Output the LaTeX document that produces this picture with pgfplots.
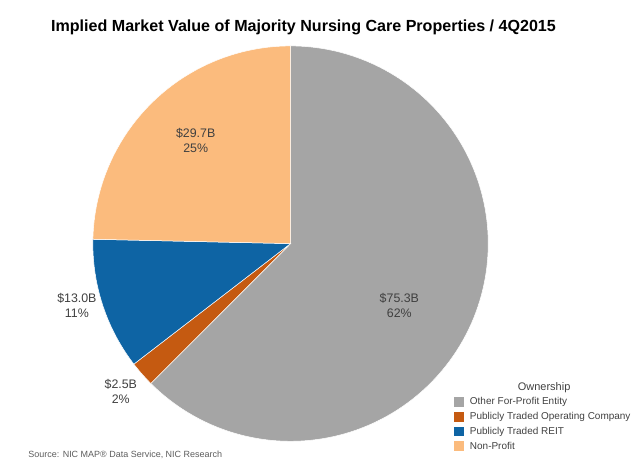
\documentclass[border=0pt]{standalone}
\usepackage{pgfplots}
\pgfplotsset{compat=1.18}
\usepackage{pgfplotstable}
\usepackage{fontspec}
\setmainfont{Liberation Sans}
\definecolor{cGray}{HTML}{A5A5A5}
\definecolor{cOrange}{HTML}{C55A11}
\definecolor{cBlue}{HTML}{0E64A4}
\definecolor{cPeach}{HTML}{FBBB7D}
\definecolor{txt}{HTML}{404040}

\pgfplotstableread{
owner value
Other 75.3
PTOC 2.5
REIT 13.0
NonProfit 29.7
}\pietable

\begin{document}
\begin{tikzpicture}
\pgfplotstablegetelem{0}{value}\of\pietable \let\vA\pgfplotsretval
\pgfplotstablegetelem{1}{value}\of\pietable \let\vB\pgfplotsretval
\pgfplotstablegetelem{2}{value}\of\pietable \let\vC\pgfplotsretval
\pgfplotstablegetelem{3}{value}\of\pietable \let\vD\pgfplotsretval
\pgfmathsetmacro{\tot}{\vA+\vB+\vC+\vD}
\pgfmathsetmacro{\aA}{90-360*(\vA/\tot)}
\pgfmathsetmacro{\aB}{\aA-360*(\vB/\tot)}
\pgfmathsetmacro{\aC}{\aB-360*(\vC/\tot)}
\pgfmathsetmacro{\aD}{\aC-360*(\vD/\tot)}
\begin{axis}[
  width=636bp, height=476bp, scale only axis,
  xmin=0, xmax=636, ymin=0, ymax=476,
  hide axis, clip=false,
  legend image code/.code={\fill[#1, draw=none] (0bp,-5bp) rectangle (10bp,5bp);},
  legend cell align=left,
  legend style={draw=none, fill=none, at={(axis cs:455,80)}, anchor=north west,
    inner sep=0pt, font=\fontsize{10bp}{12bp}\selectfont, text=txt,
    row sep=3bp,
    nodes={inner xsep=5.5bp, inner ysep=0bp, text height=9bp, text depth=3bp}},
]
\path (axis cs:0,0) rectangle (axis cs:636,476);
\addlegendimage{fill=cGray, draw=none}
\addlegendentry{Other For-Profit Entity}
\addlegendimage{fill=cOrange, draw=none}
\addlegendentry{Publicly Traded Operating Company}
\addlegendimage{fill=cBlue, draw=none}
\addlegendentry{Publicly Traded REIT}
\addlegendimage{fill=cPeach, draw=none}
\addlegendentry{Non-Profit}

\addplot[forget plot, fill=cGray, draw=white, line width=0.5bp, domain=\aA:90, samples=150]
  ({291+198*cos(x)},{232+198*sin(x)}) -- (axis cs:291,232) -- cycle;
\addplot[forget plot, fill=cOrange, draw=white, line width=0.5bp, domain=\aB:\aA, samples=10]
  ({291+198*cos(x)},{232+198*sin(x)}) -- (axis cs:291,232) -- cycle;
\addplot[forget plot, fill=cBlue, draw=white, line width=0.5bp, domain=\aC:\aB, samples=40]
  ({291+198*cos(x)},{232+198*sin(x)}) -- (axis cs:291,232) -- cycle;
\addplot[forget plot, fill=cPeach, draw=white, line width=0.5bp, domain=\aD:\aC, samples=80]
  ({291+198*cos(x)},{232+198*sin(x)}) -- (axis cs:291,232) -- cycle;

\node[font=\bfseries\fontsize{16.1bp}{18bp}\selectfont, anchor=center] at (axis cs:304,449) {Implied Market Value of Majority Nursing Care Properties / 4Q2015};
\node[font=\fontsize{12.4bp}{15bp}\selectfont, text=txt, align=center] at (axis cs:400,170.5) {\$75.3B\\62\%};
\node[font=\fontsize{12.4bp}{15bp}\selectfont, text=txt, align=center] at (axis cs:196,335.5) {\$29.7B\\25\%};
\node[font=\fontsize{12.4bp}{15bp}\selectfont, text=txt, align=center] at (axis cs:77,170.5) {\$13.0B\\11\%};
\node[font=\fontsize{12.4bp}{15bp}\selectfont, text=txt, align=center] at (axis cs:121,83.5) {\$2.5B\\2\%};
\node[font=\fontsize{11bp}{13bp}\selectfont, text=txt] at (axis cs:545,88) {Ownership};
\node[font=\fontsize{9bp}{11bp}\selectfont, text=txt!85, anchor=west] at (axis cs:25,20) {Source: NIC MAP\textregistered{} Data Service, NIC Research};
\end{axis}
\end{tikzpicture}
\end{document}
